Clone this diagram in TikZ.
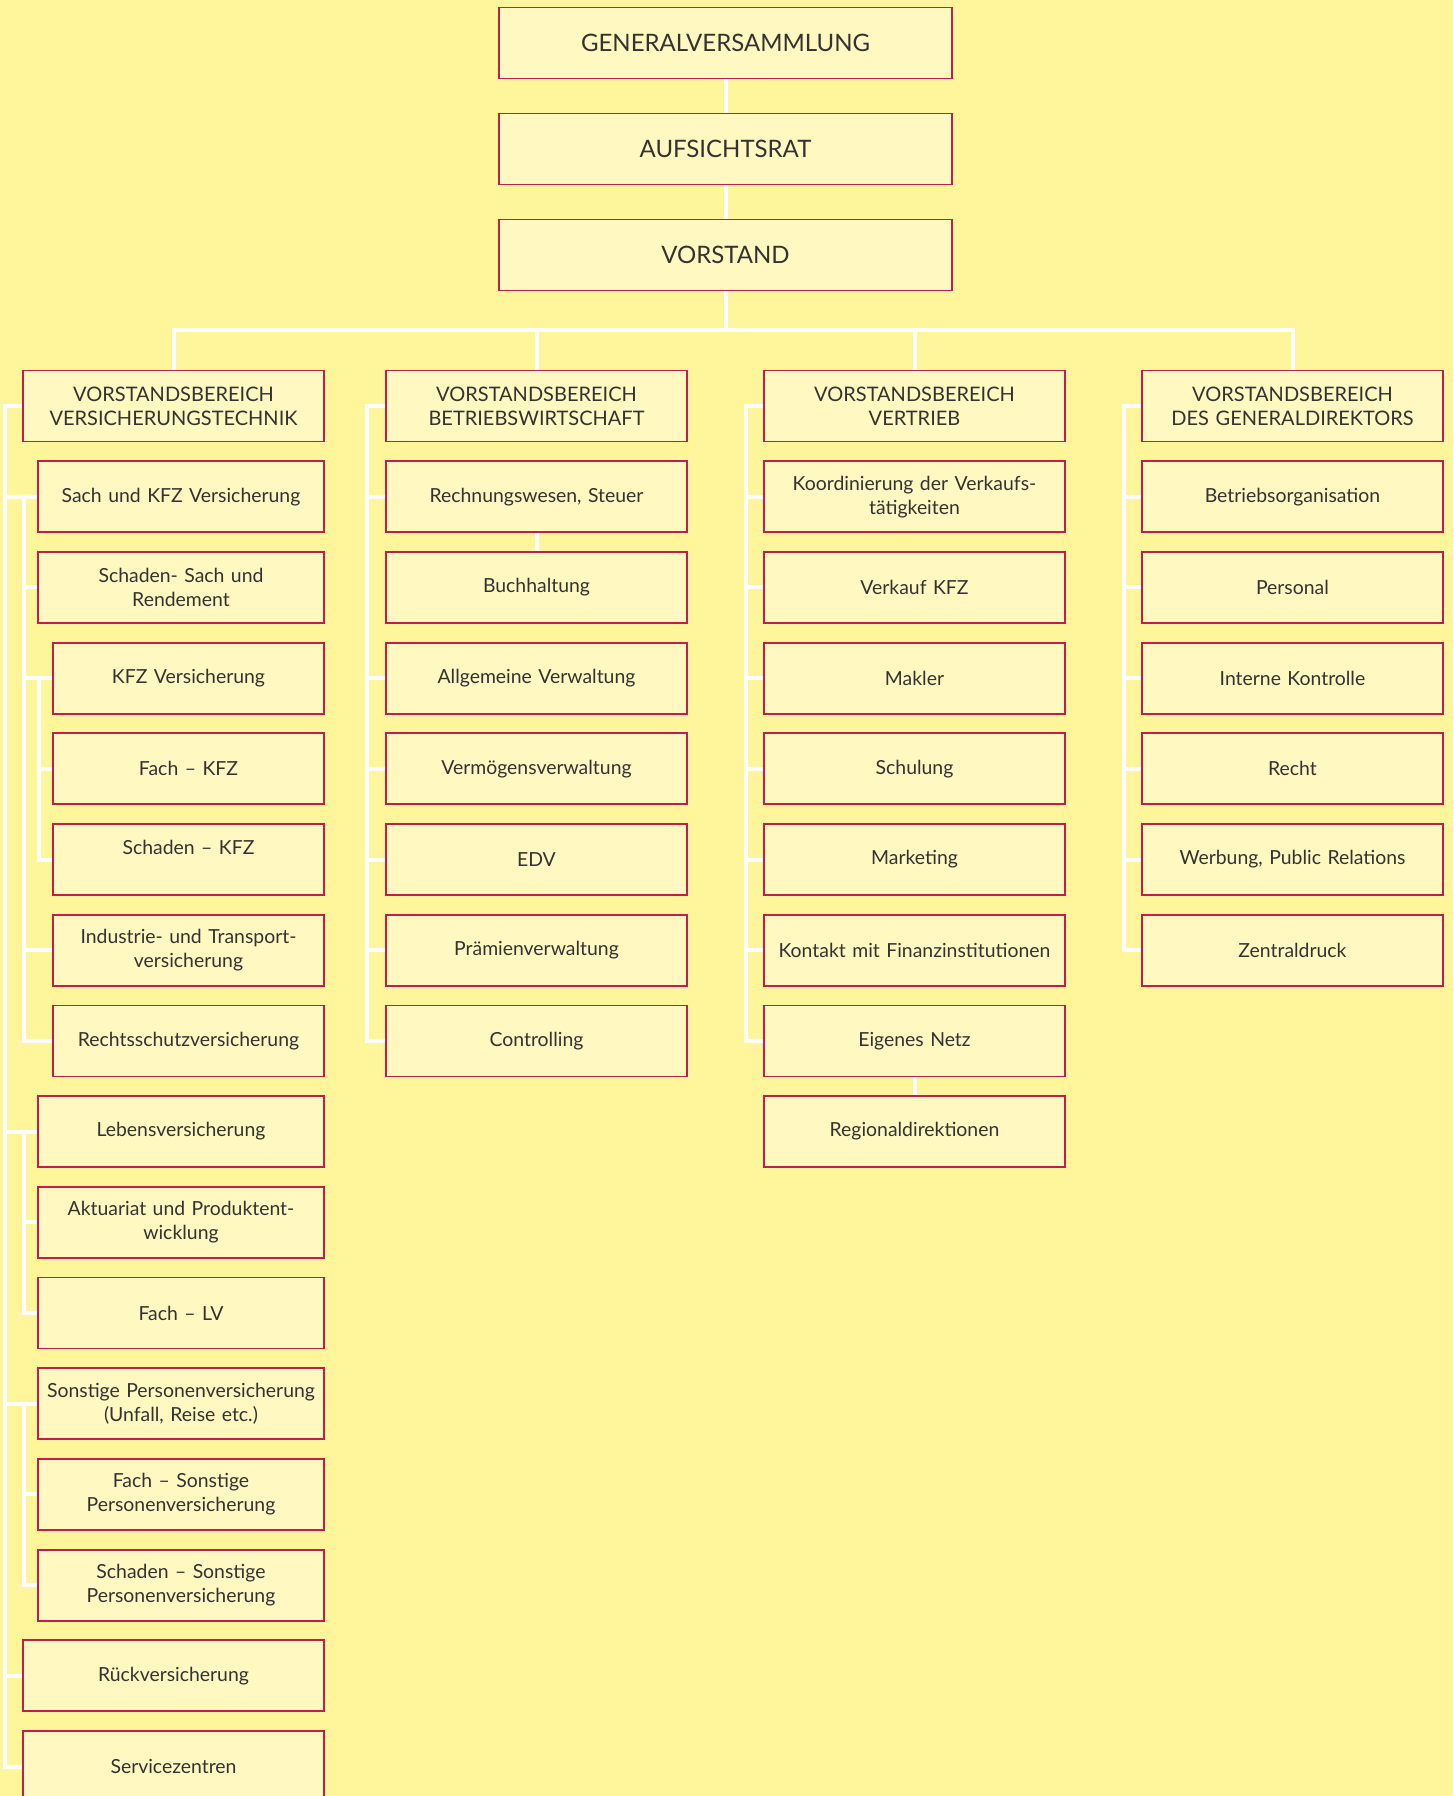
\documentclass[tikz,border=0pt]{standalone}
\usepackage{fontspec}
\setmainfont{Lato}
\usetikzlibrary{backgrounds}

\definecolor{paper}{HTML}{FFF59B}
\definecolor{boxfill}{HTML}{FFF8C0}
\definecolor{boxline}{HTML}{BE1E50}
\definecolor{ink}{HTML}{333333}

\tikzset{
  unit/.style={draw=boxline, fill=boxfill, line width=0.9pt, text=ink, align=center,
    inner xsep=0pt, inner ysep=0pt, minimum height=35.5pt, text width=150.5pt,
    font=\fontsize{9.7}{12}\selectfont},
  area/.style={unit, font=\fontsize{10}{12}\selectfont},
  chief/.style={unit, text width=226.5pt, font=\fontsize{12}{14}\selectfont},
  sub/.style={unit, text width=143pt},
  subsub/.style={unit, text width=135.5pt},
  link/.style={draw=white, line width=2pt},
}

\begin{document}
\begin{tikzpicture}[x=0.5pt, y=-0.5pt]
  \useasboundingbox (0,0) rectangle (1453,1796);

  % Leitung
  \node[chief] (gv) at (725.5,43) {GENERALVERSAMMLUNG};
  \node[chief] (ar) at (725.5,149) {AUFSICHTSRAT};
  \node[chief] (vs) at (725.5,255) {VORSTAND};

  % Vorstandsbereiche
  \node[area] (v1) at (173.5,406) {VORSTANDSBEREICH\\VERSICHERUNGSTECHNIK};
  \node[area] (v2) at (536.5,406) {VORSTANDSBEREICH\\BETRIEBSWIRTSCHAFT};
  \node[area] (v3) at (914.5,406) {VORSTANDSBEREICH\\VERTRIEB};
  \node[area] (v4) at (1292.5,406) {VORSTANDSBEREICH\\DES GENERALDIREKTORS};

  % Versicherungstechnik
  \node[sub] (s0) at (181,496.7) {Sach und KFZ Versicherung};
  \node[sub] (s1) at (181,587.4) {Schaden- Sach und\\Rendement};
  \node[subsub] (s2) at (188.5,678.1) {KFZ Versicherung};
  \node[subsub] (s3) at (188.5,768.8) {Fach – KFZ};
  \node[subsub] (s4) at (188.5,859.5) {Schaden – KFZ\\\mbox{}};
  \node[subsub] (s5) at (188.5,950.2) {Industrie- und Transport-\\versicherung};
  \node[subsub] (s6) at (188.5,1040.9) {Rechtsschutzversicherung};
  \node[sub] (s7) at (181,1131.6) {Lebensversicherung};
  \node[sub] (s8) at (181,1222.3) {Aktuariat und Produktent-\\wicklung};
  \node[sub] (s9) at (181,1313) {Fach – LV};
  \node[sub] (s10) at (181,1403.7) {Sonstige Personenversicherung\\(Unfall, Reise etc.)};
  \node[sub] (s11) at (181,1494.4) {Fach – Sonstige\\Personenversicherung};
  \node[sub] (s12) at (181,1585.1) {Schaden – Sonstige\\Personenversicherung};
  \node[unit] (s13) at (173.5,1675.8) {Rückversicherung};
  \node[unit] (s14) at (173.5,1766.5) {Servicezentren};

  % Betriebswirtschaft
  \node[unit] (b0) at (536.5,496.7) {Rechnungswesen, Steuer};
  \node[unit] (b1) at (536.5,587.4) {Buchhaltung};
  \node[unit] (b2) at (536.5,678.1) {Allgemeine Verwaltung};
  \node[unit] (b3) at (536.5,768.8) {Vermögensverwaltung};
  \node[unit] (b4) at (536.5,859.5) {EDV};
  \node[unit] (b5) at (536.5,950.2) {Prämienverwaltung};
  \node[unit] (b6) at (536.5,1040.9) {Controlling};

  % Vertrieb
  \node[unit] (t0) at (914.5,496.7) {Koordinierung der Verkaufs-\\tätigkeiten};
  \node[unit] (t1) at (914.5,587.4) {Verkauf KFZ};
  \node[unit] (t2) at (914.5,678.1) {Makler};
  \node[unit] (t3) at (914.5,768.8) {Schulung};
  \node[unit] (t4) at (914.5,859.5) {Marketing};
  \node[unit] (t5) at (914.5,950.2) {Kontakt mit Finanzinstitutionen};
  \node[unit] (t6) at (914.5,1040.9) {Eigenes Netz};
  \node[unit] (t7) at (914.5,1131.6) {Regionaldirektionen};

  % Generaldirektor
  \node[unit] (g0) at (1292.5,496.7) {Betriebsorganisation};
  \node[unit] (g1) at (1292.5,587.4) {Personal};
  \node[unit] (g2) at (1292.5,678.1) {Interne Kontrolle};
  \node[unit] (g3) at (1292.5,768.8) {Recht};
  \node[unit] (g4) at (1292.5,859.5) {Werbung, Public Relations};
  \node[unit] (g5) at (1292.5,950.2) {Zentraldruck};

  % Schienen
  \coordinate (bus) at (0,330);
  \coordinate (rail1) at (4.5,0);
  \coordinate (rail1b) at (23.5,0);
  \coordinate (rail1c) at (38.5,0);
  \coordinate (rail2) at (367,0);
  \coordinate (rail3) at (746,0);
  \coordinate (rail4) at (1124,0);

  \begin{scope}[on background layer]
    \fill[paper] (0,0) rectangle (1453,1796);

    % Leitung und Verteiler
    \draw[link] (gv) -- (ar);
    \draw[link] (ar) -- (vs);
    \draw[link] (vs.south) -- (vs.south |- bus);
    \draw[link] (v1.north) -- (v1.north |- bus) -- (v4.north |- bus) -- (v4.north);
    \draw[link] (v2.north) -- (v2.north |- bus);
    \draw[link] (v3.north) -- (v3.north |- bus);

    % Versicherungstechnik
    \draw[link] (v1.west) -- (v1.west -| rail1) -- (s14.west -| rail1) -- (s14.west);
    \foreach \n in {s0,s7,s10,s13}
      \draw[link] (\n.west -| rail1) -- (\n.west);
    \draw[link] (s0.west -| rail1b) -- (s6.west -| rail1b) -- (s6.west);
    \foreach \n in {s1,s2,s5}
      \draw[link] (\n.west -| rail1b) -- (\n.west);
    \draw[link] (s2.west -| rail1c) -- (s4.west -| rail1c) -- (s4.west);
    \draw[link] (s3.west -| rail1c) -- (s3.west);
    \draw[link] (s7.west -| rail1b) -- (s9.west -| rail1b) -- (s9.west);
    \draw[link] (s8.west -| rail1b) -- (s8.west);
    \draw[link] (s10.west -| rail1b) -- (s12.west -| rail1b) -- (s12.west);
    \draw[link] (s11.west -| rail1b) -- (s11.west);

    % Betriebswirtschaft
    \draw[link] (v2.west) -- (v2.west -| rail2) -- (b6.west -| rail2) -- (b6.west);
    \foreach \n in {b0,b2,b3,b4,b5}
      \draw[link] (\n.west -| rail2) -- (\n.west);
    \draw[link] (b0) -- (b1);

    % Vertrieb
    \draw[link] (v3.west) -- (v3.west -| rail3) -- (t6.west -| rail3) -- (t6.west);
    \foreach \n in {t0,t1,t2,t3,t4,t5}
      \draw[link] (\n.west -| rail3) -- (\n.west);
    \draw[link] (t6) -- (t7);

    % Generaldirektor
    \draw[link] (v4.west) -- (v4.west -| rail4) -- (g5.west -| rail4) -- (g5.west);
    \foreach \n in {g0,g1,g2,g3,g4}
      \draw[link] (\n.west -| rail4) -- (\n.west);
  \end{scope}
\end{tikzpicture}
\end{document}
